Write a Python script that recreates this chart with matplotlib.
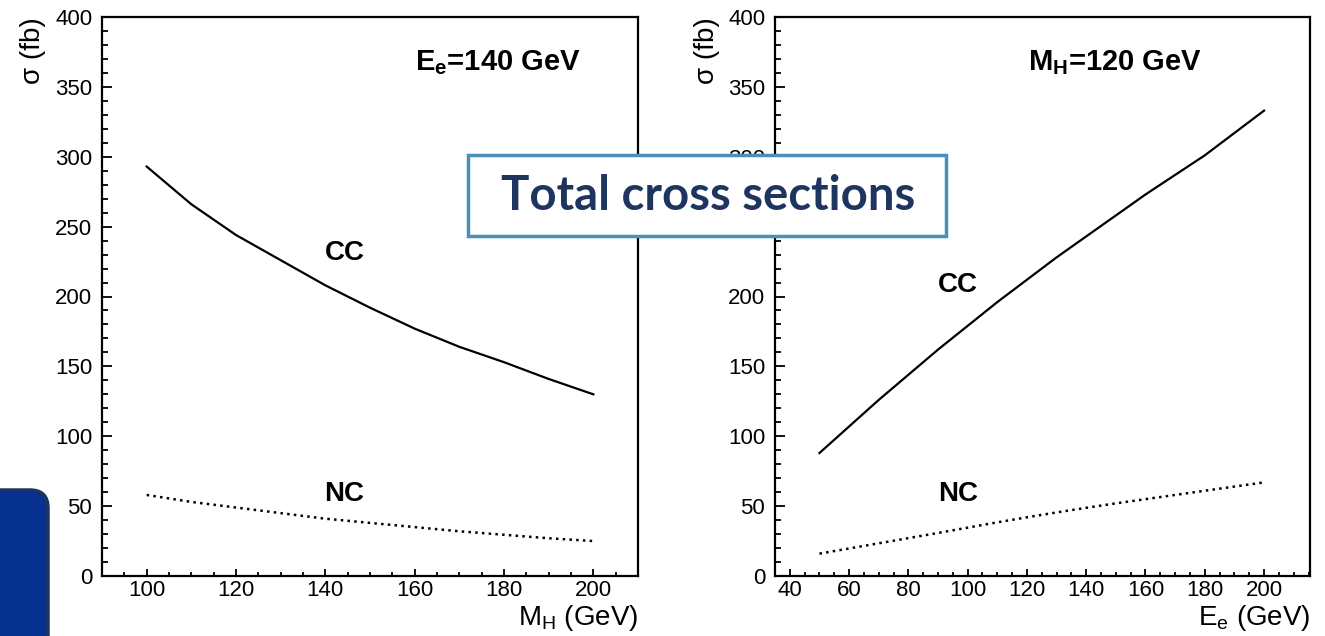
import matplotlib
matplotlib.use("Agg")
import matplotlib.pyplot as plt
from matplotlib.patches import FancyBboxPatch, Rectangle
from matplotlib.ticker import MultipleLocator
from matplotlib.transforms import IdentityTransform

plt.rcParams["font.family"] = ["Liberation Sans", "DejaVu Sans"]
plt.rcParams["mathtext.fontset"] = "custom"
plt.rcParams["mathtext.rm"] = "Liberation Sans"
plt.rcParams["mathtext.it"] = "Liberation Sans:italic"
plt.rcParams["mathtext.bf"] = "Liberation Sans:bold"

# sigma vs Higgs mass at E_e = 140 GeV
mh = [100, 110, 120, 130, 140, 150, 160, 170, 180, 190, 200]
cc_mh = [293, 266, 244, 226, 208, 192, 177, 164, 153, 141, 130]
nc_mh = [58, 53, 49, 45, 41, 38, 35, 32, 29.5, 27, 25]

# sigma vs electron beam energy at M_H = 120 GeV
ee = [50, 60, 70, 80, 90, 100, 110, 120, 130, 140, 150, 160, 170, 180, 190, 200]
cc_ee = [88, 107, 126, 144, 162, 179, 196, 212, 228, 243, 258, 273, 287, 301, 317, 333]
nc_ee = [16, 19.7, 23.4, 27.1, 30.8, 34.6, 38.4, 42, 45.5, 48.8, 52, 55, 58, 61, 64, 67]

W, H = 1325, 636
fig = plt.figure(figsize=(W / 100, H / 100), dpi=100)
ax1 = fig.add_axes([102 / W, 60 / H, 536 / W, 559 / H])
ax2 = fig.add_axes([775 / W, 60 / H, 535 / W, 559 / H])

dotted = (0, (1, 1.7))

ax1.plot(mh, cc_mh, color="black", lw=1.6)
ax1.plot(mh, nc_mh, color="black", lw=1.8, linestyle=dotted)
ax2.plot(ee, cc_ee, color="black", lw=1.6)
ax2.plot(ee, nc_ee, color="black", lw=1.8, linestyle=dotted)

ax1.set_xlim(90, 210)
ax2.set_xlim(35, 215.5)

for ax in (ax1, ax2):
    ax.set_ylim(0, 400)
    ax.xaxis.set_major_locator(MultipleLocator(20))
    ax.xaxis.set_minor_locator(MultipleLocator(5))
    ax.yaxis.set_major_locator(MultipleLocator(50))
    ax.yaxis.set_minor_locator(MultipleLocator(10))
    ax.tick_params(which="both", direction="in", top=False, right=False,
                   width=1.3, labelsize=16, colors="black")
    ax.tick_params(axis="x", which="major", length=5, pad=3)
    ax.tick_params(axis="x", which="minor", length=2.8)
    ax.tick_params(axis="y", which="major", length=7.5, pad=7)
    ax.tick_params(axis="y", which="minor", length=4.5)
    for s in ax.spines.values():
        s.set_linewidth(1.6)

ax1.set_xticks([100, 120, 140, 160, 180, 200])
ax2.set_xticks([40, 60, 80, 100, 120, 140, 160, 180, 200])

# panel annotations
ax1.text(0.584, 0.919, r"E$_{\mathbf{e}}$=140 GeV", transform=ax1.transAxes,
         fontsize=21, fontweight="bold", ha="left", va="center")
ax1.text(144.3, 231, "CC", fontsize=20, fontweight="bold", ha="center", va="center")
ax1.text(144.3, 59, "NC", fontsize=20, fontweight="bold", ha="center", va="center")

ax2.text(0.473, 0.919, r"M$_{\mathbf{H}}$=120 GeV", transform=ax2.transAxes,
         fontsize=21, fontweight="bold", ha="left", va="center")
ax2.text(96.7, 208, "CC", fontsize=20, fontweight="bold", ha="center", va="center")
ax2.text(96.7, 59, "NC", fontsize=20, fontweight="bold", ha="center", va="center")

# axis titles
for xpix in (33, 707):
    fig.text(xpix / W, 1 - 17 / H, "σ (fb)", rotation=90, fontsize=20,
             ha="center", va="top")
fig.text(638 / W, 1 - 618 / H, r"M$_{\mathrm{H}}$ (GeV)", fontsize=20,
         ha="right", va="center")
fig.text(1310 / W, 1 - 618 / H, r"E$_{\mathrm{e}}$ (GeV)", fontsize=20,
         ha="right", va="center")

# title box across the two panels
fig.add_artist(Rectangle((468, H - 236), 478, 81, transform=IdentityTransform(),
                         facecolor="white", edgecolor="#4a90b9", lw=2.5, zorder=5))
fig.text(708 / W, 1 - 196 / H, "Total cross sections", fontfamily="Lato",
         fontweight="bold", fontsize=34, color="#1e3560", ha="center",
         va="center", zorder=6)

# navy tab in the lower left corner
fig.add_artist(FancyBboxPatch((-40, -40), 88, H - 490 + 40,
                              boxstyle="round,pad=0,rounding_size=18",
                              transform=IdentityTransform(),
                              facecolor="#06318f", edgecolor="#1d3461", lw=2.5,
                              zorder=5))

fig.savefig("out.png", dpi=100)
